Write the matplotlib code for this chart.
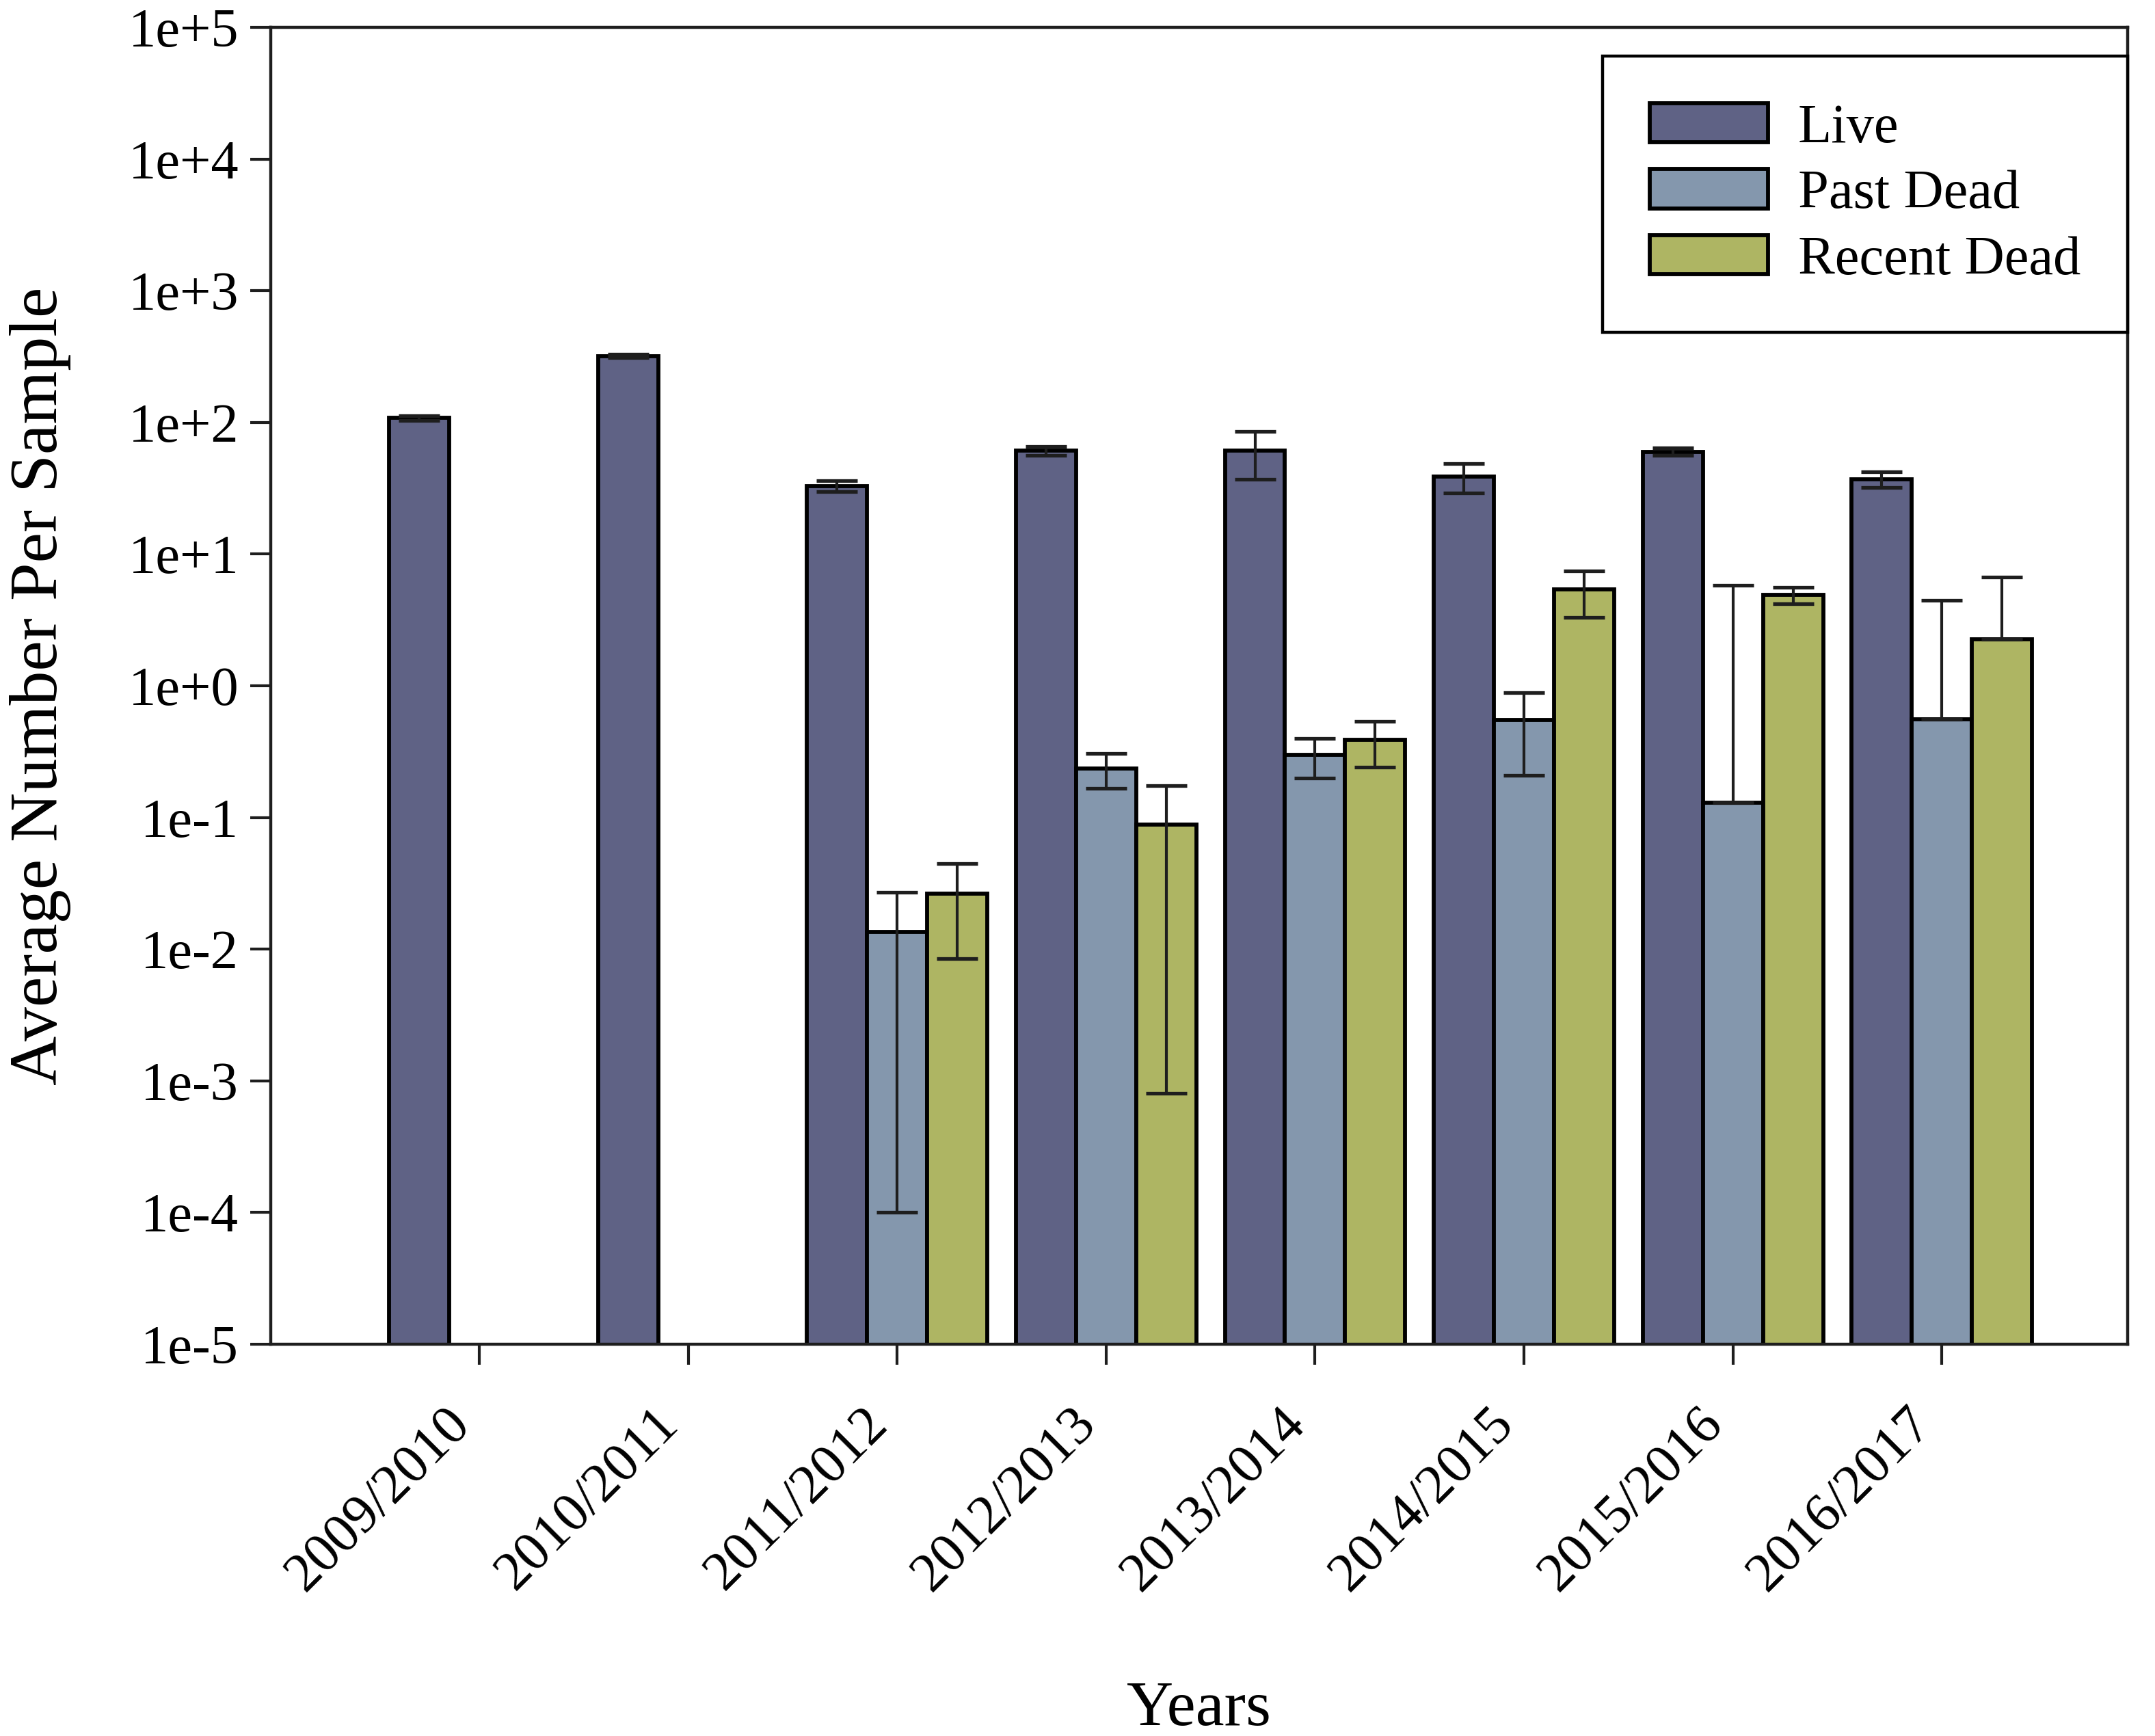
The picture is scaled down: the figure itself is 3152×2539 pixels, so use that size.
import numpy as np
import matplotlib.pyplot as plt
from matplotlib.ticker import FixedLocator, FuncFormatter, NullLocator

plt.rcParams['font.family'] = ['Liberation Serif', 'DejaVu Serif']
plt.rcParams['figure.dpi'] = 200
plt.rcParams['savefig.dpi'] = 200

# Datos (media y error por temporada)
years = ['2009/2010', '2010/2011', '2011/2012', '2012/2013',
         '2013/2014', '2014/2015', '2015/2016', '2016/2017']

live = [108, 320, 33, 61, 61, 39, 60, 37]
live_err = [5, 10, 3, 5, 24, 10, 4, 5]

past_dead = [np.nan, np.nan, 0.0135, 0.236, 0.30, 0.55, 0.13, 0.56]
past_dead_err = [np.nan, np.nan, 0.0134, 0.07, 0.10, 0.34, 5.67, 3.9]

recent_dead = [np.nan, np.nan, 0.0265, 0.088, 0.39, 5.4, 4.9, 2.26]
recent_dead_err = [np.nan, np.nan, 0.018, 0.0872, 0.15, 2.1, 0.7, 4.4]

series = [
    ('Live', live, live_err, '#5f6285'),
    ('Past Dead', past_dead, past_dead_err, '#8497ad'),
    ('Recent Dead', recent_dead, recent_dead_err, '#aeb563'),
]

x = np.arange(len(years))
width = 0.288

fig = plt.figure(figsize=(15.76, 12.695))
ax = fig.add_axes([0.1256, 0.2257, 0.8617, 0.7585])

for i, (name, vals, errs, color) in enumerate(series):
    vals = np.array(vals, dtype=float)
    errs = np.array(errs, dtype=float)
    pos = x + (i - 1) * width
    ax.bar(pos, vals, width, color=color, edgecolor='black', linewidth=2.1,
           label=name, zorder=2)
    # en escala log no se dibuja la parte inferior si cae por debajo de cero
    lower = np.where(errs < vals, errs, 0.0)
    eb = ax.errorbar(pos, vals, yerr=[lower, errs], fmt='none', ecolor='#1e1e1e',
                     elinewidth=1.5, capsize=10.8, capthick=1.9, zorder=3)
    for cap in eb[1]:
        cap.set_solid_capstyle('round')

ax.set_yscale('log')
ax.set_ylim(1e-5, 1e5)
ax.set_xlim(-1.0, 7.89)
ax.yaxis.set_major_locator(FixedLocator([10.0 ** k for k in range(-5, 6)]))
ax.yaxis.set_minor_locator(NullLocator())
ax.yaxis.set_major_formatter(FuncFormatter(lambda v, p: f'1e{int(round(np.log10(v))):+d}'))

ax.set_xticks(x)
ax.set_xticklabels(years, rotation=45, ha='right')
ax.tick_params(axis='both', direction='out', length=10.8, width=1.5,
               labelsize=29, color='#1e1e1e')
ax.tick_params(axis='x', pad=18)
ax.tick_params(axis='y', pad=6)

for s in ax.spines.values():
    s.set_linewidth(1.6)
    s.set_color('#1e1e1e')

ax.set_xlabel('Years', fontsize=34, labelpad=42)
ax.set_ylabel('Average Number Per Sample', fontsize=36, labelpad=30)

leg = ax.legend(loc='upper right', bbox_to_anchor=(1.0, 0.978), borderaxespad=0,
                fontsize=29, fancybox=False, framealpha=1, edgecolor='black',
                handlelength=2.15, handleheight=0.72, handletextpad=0.55,
                labelspacing=0.28, borderpad=0.85)
leg.get_frame().set_linewidth(1.6)

fig.savefig('out.png')
